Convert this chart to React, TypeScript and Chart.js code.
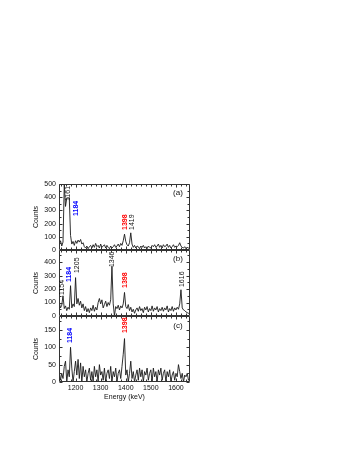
import React, { useEffect, useRef } from "react";
import { Chart, registerables } from "chart.js";

Chart.register(...registerables);

const FONT = "'Liberation Sans', Arial, Helvetica, sans-serif";

// Spectrum bins (keV)
const BIN_START = 1135;
const BIN_WIDTH = 5;

// Panel (a) counts
const countsA = [
  40, 70, 30, 60, 500, 330, 395, 395, 395, 110,
  45, 65, 35, 70, 50, 75, 60, 80, 45, 55,
  25, 15, 30, 10, 25, 35, 15, 40, 20, 50,
  25, 35, 15, 45, 20, 30, 40, 15, 35, 20,
  10, 30, 15, 25, 40, 20, 30, 45, 25, 50,
  35, 70, 120, 65, 40, 30, 55, 130, 45, 20,
  35, 15, 30, 25, 10, 30, 20, 35, 15, 25,
  10, 30, 20, 15, 35, 25, 40, 20, 30, 45,
  20, 35, 15, 40, 25, 30, 45, 20, 35, 15,
  25, 40, 20, 30, 25, 35, 55, 30, 20, 15,
  25, 10, 20, 15, 10,
];

// Panel (b) counts
const countsB = [
  100, 60, 80, 150, 55, 75, 40, 65, 50, 225,
  60, 90, 70, 285, 90, 130, 80, 110, 60, 90,
  40, 70, 30, 55, 25, 60, 40, 80, 35, 65,
  45, 100, 130, 90, 120, 60, 85, 110, 70, 100,
  80, 120, 370, 90, 0, 70, 55, 80, 45, 75,
  60, 90, 175, 70, 55, 85, 40, 65, 30, 50,
  20, 45, 60, 35, 70, 40, 55, 25, 65, 45,
  70, 30, 55, 40, 75, 35, 60, 45, 70, 30,
  55, 40, 65, 35, 60, 45, 75, 30, 55, 40,
  70, 35, 60, 45, 65, 50, 90, 195, 60, 45,
  40, 30, 25, 20, 15,
];

// Panel (c) counts
const countsC = [
  30, 5, 25, 10, 45, 60, 0, 35, 15, 100,
  40, 0, 30, 60, 20, 65, 10, 55, 0, 45,
  15, 35, 0, 25, 40, 5, 30, 0, 45, 15,
  35, 0, 50, 20, 30, 5, 40, 0, 25, 35,
  10, 45, 0, 30, 15, 40, 0, 25, 35, 10,
  45, 80, 125, 20, 35, 0, 25, 60, 10, 30,
  0, 20, 35, 5, 40, 15, 35, 0, 30, 20,
  40, 5, 25, 35, 0, 40, 15, 30, 0, 35,
  20, 40, 5, 25, 35, 0, 30, 15, 35, 0,
  20, 30, 5, 25, 15, 50, 30, 10, 25, 0,
  20, 15, 25, 5, 10,
];

const energies = countsA.map((_, i) => BIN_START + i * BIN_WIDTH);

const X_MIN = 1134;
const X_MAX = 1656;
const xTicks = [1200, 1300, 1400, 1500, 1600];
const X_MINOR_STEP = 20;

const yTicksA = [0, 100, 200, 300, 400, 500];
const yTicksB = [0, 100, 200, 300, 400];
const yTicksC = [0, 50, 100, 150];

const PANELS = [
  { id: "yA", data: countsA, min: 0, max: 500, ticks: yTicksA, minorStep: 50, weight: 3 },
  { id: "yB", data: countsB, min: 0, max: 490, ticks: yTicksB, minorStep: 50, weight: 2 },
  { id: "yC", data: countsC, min: 0, max: 190, ticks: yTicksC, minorStep: 25, weight: 1 },
];

// Peak annotations: text, energy (x), count at label's lower end, colour, bold
const peakLabels = [
  { panel: "yA", text: "1161", energy: 1169, value: 371, color: "#111", bold: false },
  { panel: "yA", text: "1184", energy: 1203, value: 258, color: "#0000ff", bold: true },
  { panel: "yA", text: "1398", energy: 1397, value: 152, color: "#ff0000", bold: true },
  { panel: "yA", text: "1419", energy: 1427, value: 152, color: "#111", bold: false },
  { panel: "yB", text: "1154", energy: 1146, value: 156, color: "#111", bold: false },
  { panel: "yB", text: "1184", energy: 1176, value: 252, color: "#0000ff", bold: true },
  { panel: "yB", text: "1205", energy: 1204, value: 319, color: "#111", bold: false },
  { panel: "yB", text: "1346", energy: 1345, value: 363, color: "#111", bold: false },
  { panel: "yB", text: "1398", energy: 1397, value: 208, color: "#ff0000", bold: true },
  { panel: "yB", text: "1616", energy: 1623, value: 215, color: "#111", bold: false },
  { panel: "yC", text: "1184", energy: 1177, value: 112, color: "#0000ff", bold: true },
  { panel: "yC", text: "1398", energy: 1397, value: 141, color: "#ff0000", bold: true },
];

const panelTags = [
  { panel: "yA", text: "(a)", energy: 1608, value: 430 },
  { panel: "yB", text: "(b)", energy: 1608, value: 428 },
  { panel: "yC", text: "(c)", energy: 1608, value: 161 },
];

const framePlugin = {
  id: "frames",
  afterDatasetsDraw(chart: any) {
    const ctx = chart.ctx as CanvasRenderingContext2D;
    const { left, right } = chart.chartArea;
    const xs = chart.scales.x;
    const L = Math.round(left) + 0.5;
    const R = Math.round(right) - 0.5;
    ctx.save();
    ctx.strokeStyle = "#333";
    ctx.lineWidth = 1;
    PANELS.forEach((p) => {
      const s = chart.scales[p.id];
      const T = Math.round(s.top) + 0.5;
      const B = Math.round(s.bottom) - 0.5;
      ctx.beginPath();
      ctx.rect(L, T, R - L, B - T);
      ctx.stroke();
      ctx.beginPath();
      // y ticks (major + minor), inward on both sides
      for (let v = p.min; v <= p.max; v += p.minorStep) {
        const major = p.ticks.includes(v);
        const len = major ? 3 : 2;
        const y = Math.round(s.getPixelForValue(v)) + 0.5;
        ctx.moveTo(L, y);
        ctx.lineTo(L + len, y);
        ctx.moveTo(R, y);
        ctx.lineTo(R - len, y);
      }
      // x ticks at panel top and bottom
      for (let e = Math.ceil(X_MIN / X_MINOR_STEP) * X_MINOR_STEP; e <= X_MAX; e += X_MINOR_STEP) {
        const major = xTicks.includes(e);
        const len = major ? 3 : 2;
        const x = Math.round(xs.getPixelForValue(e)) + 0.5;
        ctx.moveTo(x, T);
        ctx.lineTo(x, T + len);
        ctx.moveTo(x, B);
        ctx.lineTo(x, B - len);
      }
      ctx.stroke();
    });

    peakLabels.forEach((l) => {
      const x = xs.getPixelForValue(l.energy);
      const y = chart.scales[l.panel].getPixelForValue(l.value);
      ctx.save();
      ctx.translate(x, y);
      ctx.rotate(-Math.PI / 2);
      ctx.font = `${l.bold ? "bold " : ""}7px ${FONT}`;
      ctx.fillStyle = l.color;
      ctx.textAlign = "left";
      ctx.textBaseline = "middle";
      ctx.fillText(l.text, 0, 0);
      ctx.restore();
    });

    ctx.font = `8px ${FONT}`;
    ctx.fillStyle = "#111";
    ctx.textAlign = "center";
    ctx.textBaseline = "middle";
    panelTags.forEach((t) => {
      const x = xs.getPixelForValue(t.energy);
      const y = chart.scales[t.panel].getPixelForValue(t.value);
      ctx.fillText(t.text, x, y);
    });
    ctx.restore();
  },
};

export default function App() {
  const ref = useRef<HTMLCanvasElement | null>(null);

  useEffect(() => {
    if (!ref.current) return;
    const scales: any = {
      x: {
        type: "linear",
        position: "bottom",
        min: X_MIN,
        max: X_MAX,
        afterBuildTicks: (s: any) => {
          s.ticks = xTicks.map((v) => ({ value: v }));
        },
        afterFit: (s: any) => {
          s.height = 19;
        },
        grid: { display: true, drawOnChartArea: false, drawTicks: false },
        border: { display: false },
        ticks: {
          font: { size: 7, family: FONT },
          color: "#111",
          padding: 2,
          maxRotation: 0,
          autoSkip: false,
          callback: (v: any) => String(v),
        },
        title: {
          display: true,
          text: "Energy (keV)",
          font: { size: 7, family: FONT },
          color: "#111",
          padding: { top: 0, bottom: 0 },
        },
      },
    };
    PANELS.forEach((p) => {
      scales[p.id] = {
        type: "linear",
        position: "left",
        stack: "spectra",
        stackWeight: 1,
        weight: p.weight,
        min: p.min,
        max: p.max,
        afterBuildTicks: (s: any) => {
          s.ticks = p.ticks.map((v) => ({ value: v }));
        },
        afterFit: (s: any) => {
          s.width = 31;
        },
        grid: { display: true, drawOnChartArea: false, drawTicks: false },
        border: { display: false },
        ticks: {
          font: { size: 7, family: FONT },
          color: "#111",
          padding: 3,
          autoSkip: false,
          callback: (v: any) => String(v),
        },
        title: {
          display: true,
          text: "Counts",
          font: { size: 7, family: FONT },
          color: "#111",
          padding: { top: 4, bottom: 0 },
        },
      };
    });

    const chart = new Chart(ref.current, {
      type: "line",
      data: {
        datasets: PANELS.map((p) => ({
          label: p.id,
          yAxisID: p.id,
          xAxisID: "x",
          data: p.data.map((v, i) => ({ x: energies[i], y: v })),
          borderColor: "#1a1a1a",
          borderWidth: 0.9,
          pointRadius: 0,
          tension: 0,
          fill: false,
        })),
      },
      options: {
        responsive: false,
        animation: false,
        parsing: false as any,
        layout: { padding: { left: 28, right: 164, top: 184, bottom: 57 } },
        plugins: {
          legend: { display: false },
          tooltip: { enabled: false },
        },
        scales,
      },
      plugins: [framePlugin],
    });
    return () => chart.destroy();
  }, []);

  return (
    <canvas
      ref={ref}
      width={354}
      height={458}
      style={{ position: "absolute", left: 0, top: 0, width: 354, height: 458, display: "block" }}
    />
  );
}
